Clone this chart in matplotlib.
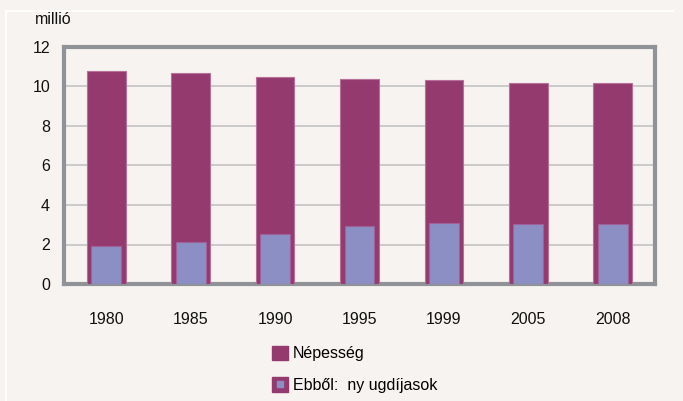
import matplotlib
matplotlib.use("Agg")
import matplotlib.pyplot as plt
from matplotlib.patches import Patch
from matplotlib.lines import Line2D
from matplotlib.legend_handler import HandlerTuple
import numpy as np

years = ["1980", "1985", "1990", "1995", "1999", "2005", "2008"]
population = [10.78, 10.70, 10.48, 10.40, 10.33, 10.18, 10.17]
pensioners = [1.92, 2.14, 2.54, 2.94, 3.08, 3.03, 3.02]
yticks = [0, 2, 4, 6, 8, 10, 12]

plt.rcParams['font.family'] = ['Liberation Sans', 'DejaVu Sans']

BG = '#f7f3f0'
PURPLE = '#943a6e'
LAV = '#8b8fc4'
FRAME = '#8f9296'
GRID = '#c4c4c4'
FS = 11.5

fig = plt.figure(figsize=(6.83, 4.01), dpi=100, facecolor=BG)
ax = fig.add_axes([64/683, 1-284/401, (655-64)/683, (284-47)/401], facecolor=BG)

x = np.arange(len(years))
ax.bar(x, population, width=0.46, color=PURPLE, edgecolor='#b8709a', linewidth=0.8, zorder=3)
ax.bar(x, pensioners, width=0.355, color=LAV, edgecolor='#a0609a', linewidth=0.8, zorder=4)

ax.set_xlim(-0.5, len(years) - 0.5)
ax.set_ylim(0, 12)
ax.set_yticks(yticks)
ax.set_yticklabels([str(v) for v in yticks])
ax.set_xticks(x)
ax.set_xticklabels(years)
ax.tick_params(axis='both', length=0, labelsize=FS, colors='#111111')
ax.tick_params(axis='y', pad=10)
ax.tick_params(axis='x', pad=20)
ax.yaxis.grid(True, color=GRID, linewidth=1.2, zorder=0)
ax.set_axisbelow(True)
for s in ax.spines.values():
    s.set_color(FRAME)
    s.set_linewidth(3)

fig.text(35/683, 1-19/401, "millió", fontsize=FS, va='center', ha='left', color='#111111')

# white border lines of the panel
fig.add_artist(Line2D([6/683, 673/683], [1-11/401, 1-11/401], color='white', lw=1.5))
fig.add_artist(Line2D([6/683, 6/683], [0, 1-11/401], color='white', lw=1.5))

h1 = Patch(facecolor=PURPLE, edgecolor=PURPLE)
h2a = Patch(facecolor=PURPLE, edgecolor=PURPLE)
h2b = Line2D([], [], marker='s', linestyle='none', markersize=4.5, markerfacecolor=LAV, markeredgecolor=LAV)
leg = fig.legend([h1, (h2a, h2b)], ["Népesség", "Ebből:  ny ugdíjasok"],
                 handler_map={tuple: HandlerTuple(ndivide=1, pad=0)},
                 loc='upper left', bbox_to_anchor=(259/683, 1-333/401),
                 frameon=False, fontsize=FS, handlelength=1.0, handleheight=1.0,
                 handletextpad=0.3, labelspacing=1.0, borderpad=0.3)

fig.savefig("out.png", dpi=100, facecolor=BG)
